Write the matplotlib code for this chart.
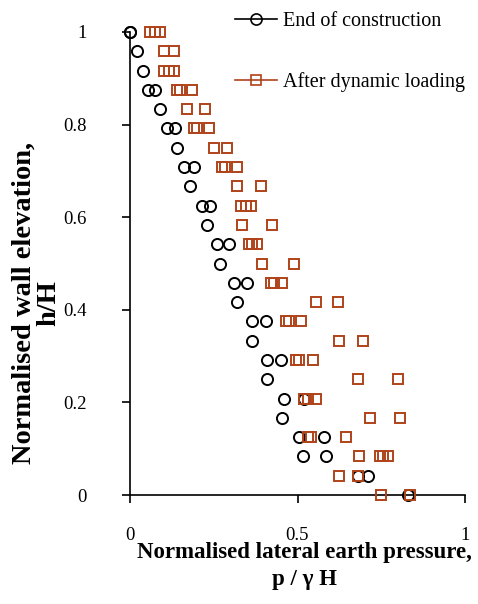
import matplotlib
matplotlib.use("Agg")
import matplotlib.pyplot as plt
from matplotlib.lines import Line2D

plt.rcParams['font.family'] = ['Liberation Serif', 'DejaVu Serif']

# measurement levels h/H (25 gauges, top to bottom) and readings p/(gamma H)
levels = [24 - i for i in range(25)]

end_construction = [
    [0.0, 0.0],
    [0.02],
    [0.04],
    [0.055, 0.075],
    [0.09],
    [0.11, 0.135],
    [0.14],
    [0.16, 0.19],
    [0.18],
    [0.215, 0.24],
    [0.23],
    [0.26, 0.295],
    [0.27],
    [0.31, 0.35],
    [0.32],
    [0.365, 0.405],
    [0.365],
    [0.41, 0.45],
    [0.41],
    [0.46, 0.52],
    [0.455],
    [0.505, 0.58],
    [0.515, 0.585],
    [0.68, 0.71],
    [0.83],
]

after_dynamic = [
    [0.06, 0.075, 0.09],
    [0.10, 0.13],
    [0.10, 0.115, 0.13],
    [0.14, 0.15, 0.185],
    [0.17, 0.225],
    [0.19, 0.20, 0.235],
    [0.25, 0.29],
    [0.275, 0.285, 0.32],
    [0.32, 0.39],
    [0.33, 0.345, 0.36],
    [0.335, 0.425],
    [0.355, 0.365, 0.38],
    [0.395, 0.49],
    [0.42, 0.43, 0.455],
    [0.555, 0.62],
    [0.465, 0.475, 0.51],
    [0.625, 0.695],
    [0.495, 0.505, 0.545],
    [0.68, 0.80],
    [0.52, 0.53, 0.555],
    [0.715, 0.805],
    [0.53, 0.54, 0.645],
    [0.685, 0.745, 0.755, 0.77],
    [0.625, 0.68],
    [0.75, 0.835],
]

x_ticks = [0, 0.5, 1]
y_ticks = [0, 0.2, 0.4, 0.6, 0.8, 1]
black = '#000000'
rust = '#B0431A'


def flatten(series):
    xs, ys = [], []
    for lev, row in zip(levels, series):
        for v in row:
            xs.append(v)
            ys.append(lev / 24.0)
    return xs, ys


fig = plt.figure(figsize=(4.78, 6.04), dpi=100)
ax = fig.add_axes([130 / 478, 1 - 495 / 604, 335 / 478, 463 / 604])

xb, yb = flatten(end_construction)
xr, yr = flatten(after_dynamic)
ax.plot(xb, yb, linestyle='none', marker='o', ms=8, mfc='none',
        mec=black, mew=1.4, clip_on=False, zorder=3)
ax.plot(xr, yr, linestyle='none', marker='s', ms=7, mfc='none',
        mec=rust, mew=1.4, clip_on=False, zorder=4)

ax.set_xlim(0, 1)
ax.set_ylim(0, 1)
ax.set_xticks(x_ticks)
ax.set_xticklabels(['0', '0.5', '1'])
ax.set_yticks(y_ticks)
ax.set_yticklabels(['0', '0.2', '0.4', '0.6', '0.8', '1'])
for s in ['top', 'right']:
    ax.spines[s].set_visible(False)
for s in ['left', 'bottom']:
    ax.spines[s].set_linewidth(1.2)
ax.tick_params(axis='both', direction='out', length=6, width=1.2,
               labelsize=13.5, pad=17)
ax.tick_params(axis='y', pad=25)

ax.set_xlabel('Normalised lateral earth pressure,\np / \u03b3 H',
              fontsize=16.5, fontweight='bold', linespacing=1.35)
ax.xaxis.set_label_coords(0.52, -0.102)
ax.xaxis.label.set_va('top')
ax.set_ylabel('Normalised wall elevation,\nh/H', fontsize=20.5,
              fontweight='bold', linespacing=1.0)
ax.yaxis.set_label_coords(-0.28, 0.415)
ax.yaxis.label.set_va('center')

handles = [
    Line2D([], [], color=black, lw=1.2, marker='o', ms=8, mfc='none',
           mec=black, mew=1.2),
    Line2D([], [], color=rust, lw=1.2, marker='s', ms=7, mfc='none',
           mec=rust, mew=1.2),
]
fig.legend(handles, ['End of construction', 'After dynamic loading'],
           loc='upper left', bbox_to_anchor=(217 / 478, 1 + 6 / 604),
           frameon=False, fontsize=14.5, handlelength=2.1,
           handletextpad=0.3, labelspacing=2.05)

fig.savefig('out.png', dpi=100)
